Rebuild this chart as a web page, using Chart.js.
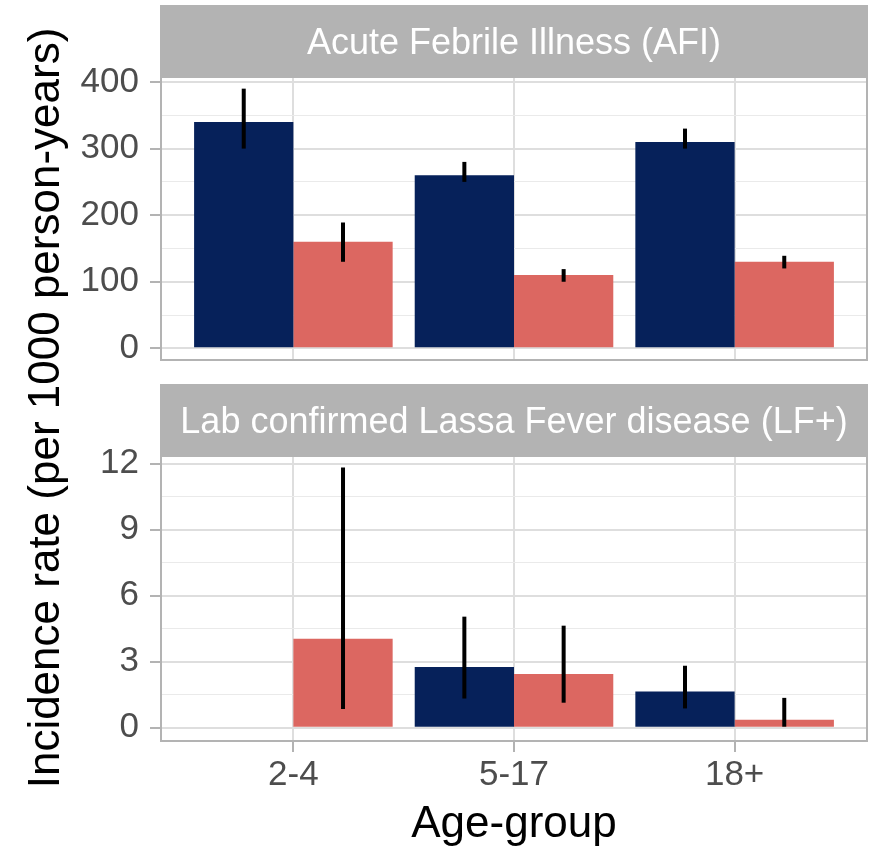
<!DOCTYPE html>
<html>
<head>
<meta charset="utf-8">
<script src="https://cdn.jsdelivr.net/npm/chart.js@4.4.1/dist/chart.umd.min.js"></script>
<style>
  html, body { margin: 0; padding: 0; background: #ffffff; }
  #wrap { position: relative; width: 876px; height: 849px; }
  #wrap canvas { position: absolute; left: 0; top: 0; }
</style>
</head>
<body>
<div id="wrap">
  <canvas id="afiChart" width="876" height="849"></canvas>
  <canvas id="lfChart" width="876" height="849"></canvas>
</div>
<script>
// age groups sit at x = 1, 2, 3 on a linear axis (ggplot-style discrete spacing)
const ageGroups = ['2-4', '5-17', '18+'];
const ageTickPos = [1, 2, 3];

// Acute febrile illness, rate per 1000 person-years
const afiDark = [340, 260, 310];
const afiDarkLo = [300, 250, 300];
const afiDarkHi = [390, 280, 330];
const afiLight = [160, 110, 130];
const afiLightLo = [130, 100, 120];
const afiLightHi = [189, 119, 139];

// lab confirmed Lassa fever, rate per 1000 person-years (no dark bar for 2-4)
const lfDark = [null, 2.76, 1.65];
const lfDarkLo = [null, 1.33, 0.88];
const lfDarkHi = [null, 5.05, 2.82];
const lfLight = [4.05, 2.45, 0.36];
const lfLightLo = [0.85, 1.14, 0.05];
const lfLightHi = [11.83, 4.64, 1.36];

// y ticks (majors labelled, minors only get a grid line)
const afiTicks = [0, 50, 100, 150, 200, 250, 300, 350, 400];
const afiMajor = [0, 100, 200, 300, 400];
const lfTicks = [0, 1.5, 3, 4.5, 6, 7.5, 9, 10.5, 12];
const lfMajor = [0, 3, 6, 9, 12];

const NAVY = '#06215A';
const SALMON = '#DC6761';
const FONT = '"Liberation Sans", Arial, Helvetica, sans-serif';
const GRID_MAJOR = '#DEDEDE';
const GRID_MINOR = '#EAEAEA';
const GREY70 = '#B3B3B3';
const TICK_TEXT = '#4D4D4D';

Chart.defaults.font.family = FONT;
Chart.defaults.devicePixelRatio = 1;

const pts = arr => arr.map((v, i) => ({ x: ageTickPos[i], y: v }));

// vertical error bars, no caps
const errorBars = {
  id: 'errorBars',
  afterDatasetsDraw(chart) {
    const ctx = chart.ctx;
    const ys = chart.scales.y;
    ctx.save();
    ctx.strokeStyle = '#000000';
    ctx.lineWidth = 4;
    ctx.lineCap = 'butt';
    chart.data.datasets.forEach((ds, i) => {
      const meta = chart.getDatasetMeta(i);
      meta.data.forEach((bar, j) => {
        const lo = ds.errLo[j], hi = ds.errHi[j];
        if (lo == null || hi == null) return;
        ctx.beginPath();
        ctx.moveTo(bar.x, ys.getPixelForValue(lo));
        ctx.lineTo(bar.x, ys.getPixelForValue(hi));
        ctx.stroke();
      });
    });
    ctx.restore();
  }
};

// facet strip above the panel + panel border + optional axis titles
const facetDecor = {
  id: 'facetDecor',
  afterDraw(chart, args, opts) {
    const ctx = chart.ctx;
    const a = chart.chartArea;
    ctx.save();
    // panel border
    ctx.strokeStyle = GREY70;
    ctx.lineWidth = 2;
    ctx.strokeRect(a.left, a.top, a.right - a.left, a.bottom - a.top);
    // strip
    const sh = 71;
    const sTop = a.top - sh - 1;
    ctx.fillStyle = GREY70;
    ctx.fillRect(a.left - 1, sTop, a.right - a.left + 2, sh);
    ctx.fillStyle = '#ffffff';
    ctx.font = '36px ' + FONT;
    ctx.textAlign = 'center';
    ctx.textBaseline = 'alphabetic';
    ctx.fillText(opts.strip, (a.left + a.right) / 2, sTop + sh / 2 + 13);

    ctx.fillStyle = '#000000';
    ctx.font = '44px ' + FONT;
    if (opts.yTitle) {
      ctx.save();
      ctx.translate(59, 408);
      ctx.rotate(-Math.PI / 2);
      ctx.textAlign = 'center';
      ctx.fillText(opts.yTitle, 0, 0);
      ctx.restore();
    }
    if (opts.xTitle) {
      ctx.textAlign = 'center';
      ctx.fillText(opts.xTitle, (a.left + a.right) / 2, 837);
    }
    ctx.restore();
  }
};

function yScale(min, max, ticks, major) {
  const isMajor = v => major.some(m => Math.abs(m - v) < 1e-9);
  return {
    type: 'linear',
    min: min, max: max,
    afterBuildTicks: s => { s.ticks = ticks.map(v => ({ value: v })); },
    afterFit: s => { s.width = 100; },
    border: { display: false },
    grid: {
      color: c => (c.tick && isMajor(c.tick.value)) ? GRID_MAJOR : GRID_MINOR,
      lineWidth: c => (c.tick && isMajor(c.tick.value)) ? 2 : 1,
      tickColor: c => (c.tick && isMajor(c.tick.value)) ? GREY70 : 'rgba(0,0,0,0)',
      tickWidth: 2,
      tickLength: 11,
      drawTicks: true
    },
    ticks: {
      autoSkip: false,
      padding: 11,
      color: TICK_TEXT,
      font: { size: 35 },
      callback: v => isMajor(v) ? String(v) : ''
    }
  };
}

function xScale(showLabels) {
  return {
    type: 'linear',
    min: 0.4, max: 3.6,
    offset: false,
    afterBuildTicks: s => { s.ticks = ageTickPos.map(v => ({ value: v })); },
    afterFit: s => { s.height = showLabels ? 108 : 0; },
    border: { display: false },
    grid: {
      offset: false,
      color: GRID_MAJOR,
      lineWidth: 2,
      tickColor: GREY70,
      tickWidth: 2,
      tickLength: 11,
      drawTicks: showLabels
    },
    ticks: {
      display: showLabels,
      autoSkip: false,
      maxRotation: 0,
      padding: 2,
      color: TICK_TEXT,
      font: { size: 35 },
      callback: v => ageGroups[ageTickPos.indexOf(v)]
    }
  };
}

function barSets(dark, darkLo, darkHi, light, lightLo, lightHi) {
  return [
    { label: 'dark', data: pts(dark), backgroundColor: NAVY, borderWidth: 0,
      errLo: darkLo, errHi: darkHi, categoryPercentage: 0.9, barPercentage: 1.0 },
    { label: 'light', data: pts(light), backgroundColor: SALMON, borderWidth: 0,
      errLo: lightLo, errHi: lightHi, categoryPercentage: 0.9, barPercentage: 1.0 }
  ];
}

// top panel: AFI
new Chart(document.getElementById('afiChart'), {
  type: 'bar',
  data: { datasets: barSets(afiDark, afiDarkLo, afiDarkHi, afiLight, afiLightLo, afiLightHi) },
  options: {
    responsive: false, animation: false,
    layout: { padding: { left: 61, right: 9, top: 77, bottom: 489 } },
    plugins: {
      legend: { display: false }, tooltip: { enabled: false },
      facetDecor: { strip: 'Acute Febrile Illness (AFI)',
                    yTitle: 'Incidence rate (per 1000 person-years)' }
    },
    scales: {
      x: xScale(false),
      y: yScale(-17.5, 407.5, afiTicks, afiMajor)
    }
  },
  plugins: [errorBars, facetDecor]
});

// bottom panel: LF+
new Chart(document.getElementById('lfChart'), {
  type: 'bar',
  data: { datasets: barSets(lfDark, lfDarkLo, lfDarkHi, lfLight, lfLightLo, lfLightHi) },
  options: {
    responsive: false, animation: false,
    layout: { padding: { left: 61, right: 9, top: 456, bottom: 0 } },
    plugins: {
      legend: { display: false }, tooltip: { enabled: false },
      facetDecor: { strip: 'Lab confirmed Lassa Fever disease (LF+)', xTitle: 'Age-group' }
    },
    scales: {
      x: xScale(true),
      y: yScale(-0.6, 12.35, lfTicks, lfMajor)
    }
  },
  plugins: [errorBars, facetDecor]
});
</script>
</body>
</html>
